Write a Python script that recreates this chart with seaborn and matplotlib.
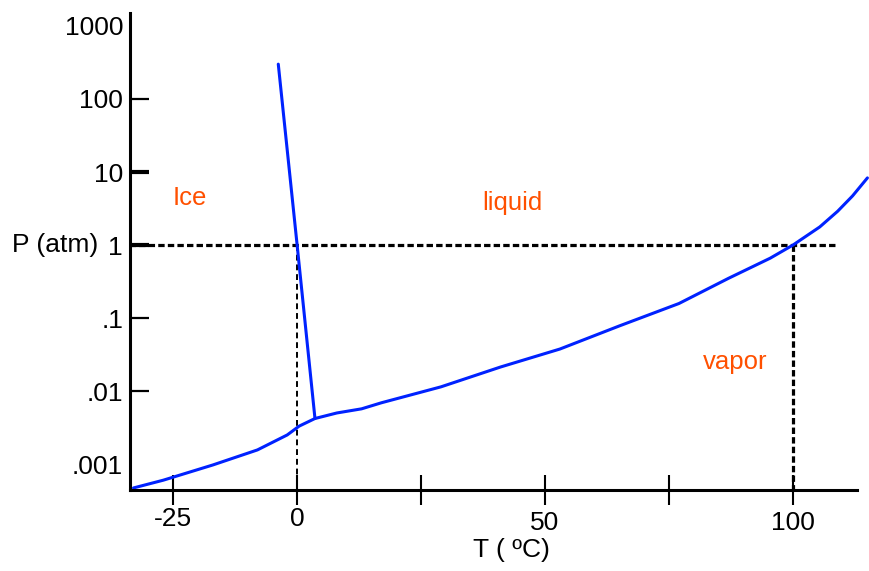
import matplotlib
matplotlib.use('Agg')
import matplotlib.pyplot as plt
import matplotlib.transforms as mtransforms
from matplotlib.ticker import NullLocator
import seaborn as sns
import pandas as pd

# 蒸氣壓曲線 (讀自圖片) 溫度 degC / 壓力 atm
temp_vap = [-33, -27, -17, -8, -2, 0.4, 3.6, 8, 13, 17, 29, 41, 53, 65, 77,
            87, 95.4, 100, 105.4, 109, 112, 115]
pres_vap = [4.7e-4, 6.0e-4, 9.7e-4, 1.56e-3, 2.5e-3, 3.3e-3, 4.2e-3, 5.0e-3,
            5.7e-3, 6.9e-3, 0.0114, 0.0213, 0.0376, 0.078, 0.158,
            0.35, 0.66, 1.0, 1.77, 2.9, 4.7, 8.3]

# 冰/水 融化線
temp_fus = [-3.8, 0, 3.6]
pres_fus = [300, 1.0, 4.2e-3]

x_ticks = [-25, 0, 25, 50, 75, 100]
x_labels = ['-25', '0', '', '50', '', '100']
y_ticks = [1e-3, 1e-2, 1e-1, 1, 10, 100, 1000]
y_labels = ['.001', '.01', '.1', '1', '10', '100', '1000']

regions = ['Ice', 'liquid', 'vapor']
region_T = [-21.6, 43.5, 88.3]
region_P = [4.4, 3.8, 0.025]

sns.set_theme(style='white')
plt.rcParams['font.family'] = ['Liberation Sans', 'DejaVu Sans']

blue = '#0022ff'
orange = '#ff5000'

fig = plt.figure(figsize=(8.69, 5.71), dpi=100)
ax = fig.add_axes([130 / 869, 1 - 490 / 571, 727 / 869, 477 / 571])

vap = pd.DataFrame({'T': temp_vap, 'P': pres_vap})
fus = pd.DataFrame({'T': temp_fus, 'P': pres_fus})

# 虛線 1 atm, 0 與 100 度
ax.plot([-34, 108.5], [1, 1], color='black', lw=2.3, dashes=(2, 1))
ax.plot([0, 0], [1, 4.0e-4], color='black', lw=1.4, dashes=(3, 2))
ax.plot([100, 100], [1, 4.0e-4], color='black', lw=2.3, dashes=(2, 1))

sns.lineplot(data=vap, x='T', y='P', sort=False, estimator=None,
             color=blue, lw=2.2, ax=ax)
ax.lines[-1].set_clip_on(False)
sns.lineplot(data=fus, x='T', y='P', sort=False, estimator=None,
             color=blue, lw=2.2, ax=ax)

ax.set_yscale('log')
ax.set_xlim(-33.7, 112.9)
ax.set_ylim(10 ** -3.356, 10 ** 3.178)

ax.set_xticks(x_ticks)
ax.set_xticklabels(x_labels)
ax.set_yticks(y_ticks)
ax.set_yticklabels(y_labels)
ax.yaxis.set_minor_locator(NullLocator())

ax.tick_params(axis='x', direction='inout', length=22, width=1.5,
               color='black', labelcolor='black', labelsize=19, pad=1,
               bottom=True)
ax.tick_params(axis='y', direction='in', length=14, width=1.6,
               color='black', labelcolor='black', labelsize=19, pad=5,
               left=True)

yt = ax.yaxis.get_major_ticks()
yt[0].tick1line.set_visible(False)
yt[-1].tick1line.set_visible(False)
yt[3].tick1line.set_markeredgewidth(3)
yt[4].tick1line.set_markeredgewidth(3)

# 50 和 100 的標籤稍低
shift = mtransforms.ScaledTranslation(0, -4 / 100, fig.dpi_scale_trans)
for lab in ax.get_xticklabels():
    if lab.get_text() in ('50', '100'):
        lab.set_transform(lab.get_transform() + shift)

for side in ['top', 'right']:
    ax.spines[side].set_visible(False)
for side in ['left', 'bottom']:
    ax.spines[side].set_color('black')
    ax.spines[side].set_linewidth(2.2)

ax.set_xlabel('T ( ºC)', fontsize=19, color='black')
ax.xaxis.set_label_coords(0.525, -0.10)
ax.set_ylabel('')
ax.text(-0.044, 1, 'P (atm)', transform=ax.get_yaxis_transform(),
        ha='right', va='center', fontsize=19, color='black')

for name, t, p in zip(regions, region_T, region_P):
    ax.text(t, p, name, ha='center', va='center', fontsize=18.5, color=orange)

fig.savefig('out.png', dpi=100)
